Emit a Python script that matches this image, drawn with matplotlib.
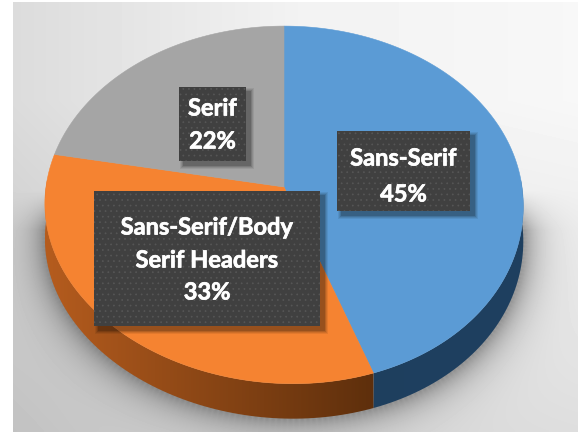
import numpy as np
import matplotlib
matplotlib.use("Agg")
import matplotlib.pyplot as plt
import matplotlib.patheffects as pe
from matplotlib.patches import Polygon, Rectangle
from matplotlib.colors import LinearSegmentedColormap

plt.rcParams["hatch.linewidth"] = 0.5

categories = ["Sans-Serif", "Sans-Serif/Body\nSerif Headers", "Serif"]
values = [45, 33, 22]
top_colors = ["#5B9BD5", "#F58331", "#A5A5A5"]
side_colors = [("#1E3F5E", "#1F4060"), ("#B55C1E", "#5E2F0C"), ("#6B6B6B", "#6B6B6B")]

# label boxes: left, top, right, bottom, and the y of each text line
boxes = [(337, 131, 470, 211), (94, 191, 320, 326), (179, 87, 246, 161)]
line_ys = [[158, 194], [227, 260, 292], [108, 141]]

# pie geometry in pixels (tilted disc, perspective makes the near half bigger)
cx, cy = 284, 187
bx, ay, k = 238, 177, 0.10
depth = 35


def arc(start, stop, n=200):
    t = np.radians(np.linspace(start, stop, n))
    x, y = np.sin(t), np.cos(t)
    w = 1 + k * y
    # near edge of the picture leans a little to the right
    lean = 9 * np.clip(-y, 0, 1) ** 2
    return cx + bx * x / w + lean, cy - ay * y / w


fig = plt.figure(figsize=(5.82, 4.32), dpi=100)
ax = fig.add_axes([0, 0, 1, 1])
ax.set_xlim(0, 582)
ax.set_ylim(432, 0)
ax.axis("off")

# backdrop
yy, xx = np.mgrid[0:432, 0:582]
bg = 0.95 - 0.09 * np.clip((300 - xx) / 290, 0, 1)
bg = bg - 0.10 * np.clip((yy - 100) / 330, 0, 1)
bg = bg + 0.02 * np.clip((xx - 300) / 280, 0, 1)

# soft shadow, fades with the distance from the rim's lower edge
rim_x, rim_y = arc(80, 280, 160)
rim_y = rim_y + depth
dist = np.full(xx.shape, 1e9)
for px, py in zip(rim_x, rim_y):
    dist = np.minimum(dist, (xx - px) ** 2 + (yy - py) ** 2)
dist = np.sqrt(dist)
bg = bg * (1 - 0.36 * np.exp(-dist / 17.0) * np.clip((yy - 190) / 40, 0, 1))
ax.imshow(bg, extent=(0, 582, 432, 0), cmap="gray", vmin=0, vmax=1, aspect="auto", zorder=0)

ax.add_patch(Rectangle((0, 0), 13, 432, facecolor="white", edgecolor="none", zorder=1.5))
ax.add_patch(Rectangle((578, 0), 4, 432, facecolor="white", edgecolor="none", zorder=1.5))
ax.add_patch(Rectangle((0, 0), 582, 2, facecolor="white", edgecolor="none", zorder=1.5))

angles = np.cumsum([0] + values) / sum(values) * 360

# rim of each slice
for i in range(len(values) - 1):
    ax_x, ax_y = arc(angles[i], angles[i + 1])
    pts = np.r_[np.c_[ax_x, ax_y], np.c_[ax_x, ax_y + depth][::-1]]
    cmap = LinearSegmentedColormap.from_list("rim", side_colors[i])
    grad = np.linspace(0, 1, 256)[None, :]
    im = ax.imshow(grad, extent=(ax_x.min(), ax_x.max(), 432, 180), cmap=cmap, aspect="auto", zorder=2)
    im.set_clip_path(Polygon(pts, transform=ax.transData))

# top face of each slice
for i in range(len(values)):
    ax_x, ax_y = arc(angles[i], angles[i + 1])
    pts = np.r_[[[cx, cy]], np.c_[ax_x, ax_y]]
    ax.add_patch(Polygon(pts, facecolor=top_colors[i], edgecolor=top_colors[i], lw=0.4, zorder=3))

# labels
for i in range(len(values)):
    x0, y0, x1, y1 = boxes[i]
    for s, a in [(7, 0.07), (5, 0.09), (3, 0.12), (1, 0.16)]:
        ax.add_patch(Rectangle((x0 + 4 - s / 2, y0 + 4 - s / 2), x1 - x0 + s, y1 - y0 + s,
                               facecolor="black", edgecolor="none", alpha=a, zorder=4))
    ax.add_patch(Rectangle((x0, y0), x1 - x0, y1 - y0, facecolor="#404040",
                           edgecolor="#565656", hatch="...", lw=0, zorder=5))
    lines = categories[i].split("\n") + ["{}%".format(values[i])]
    for line, y in zip(lines, line_ys[i]):
        ax.text((x0 + x1) / 2, y, line, color="white", fontsize=17, fontweight="bold",
                family="Lato", ha="center", va="center", zorder=6,
                path_effects=[pe.withStroke(linewidth=0.5, foreground="white")])

fig.savefig("out.png", dpi=100)
